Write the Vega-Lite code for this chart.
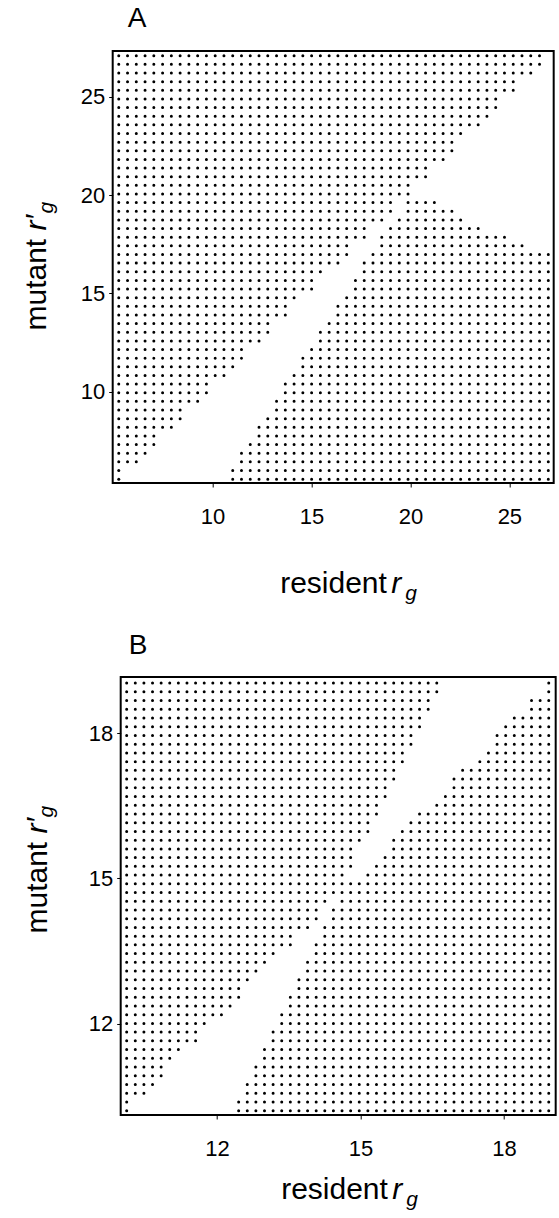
{
"$schema":"https://vega.github.io/schema/vega-lite/v6.json",
"background":"white",
"padding":{"left":20.7,"top":4,"right":0,"bottom":0},
"columns":1,
"spacing":27,
"config":{
 "font":"Liberation Sans",
 "view":{"stroke":"black","strokeWidth":2},
 "axis":{"domain":false,"grid":false,"tickColor":"black","tickSize":4,"tickWidth":1,"labelFont":"Liberation Sans","labelFontSize":22,"labelColor":"black","labelPadding":4,"titleFont":"Liberation Sans","titleFontSize":30,"titleFontWeight":"normal","titleColor":"black"},
 "title":{"font":"Liberation Sans","fontSize":28,"fontWeight":"normal","color":"black","anchor":"start","frame":"group","baseline":"alphabetic"}
},
"concat":[
{"hconcat":[{
 "width":441,"height":432,
 "title":{"text":"A","dx":15,"offset":18},
 "data":{"values":[
{"y":27.1,"x":5.04,"x2":26.747},
{"y":26.66,"x":5.04,"x2":26.747},
{"y":26.22,"x":5.04,"x2":26.304},
{"y":25.78,"x":5.04,"x2":25.418},
{"y":25.34,"x":5.04,"x2":25.418},
{"y":24.9,"x":5.04,"x2":24.532},
{"y":24.46,"x":5.04,"x2":24.532},
{"y":24.02,"x":5.04,"x2":24.089},
{"y":23.58,"x":5.04,"x2":23.646},
{"y":23.14,"x":5.04,"x2":22.76},
{"y":22.7,"x":5.04,"x2":22.317},
{"y":22.26,"x":5.04,"x2":22.317},
{"y":21.82,"x":5.04,"x2":21.874},
{"y":21.38,"x":5.04,"x2":20.988},
{"y":20.94,"x":5.04,"x2":20.988},
{"y":20.5,"x":5.04,"x2":20.102},
{"y":20.06,"x":5.04,"x2":20.102},
{"y":19.62,"x":5.04,"x2":19.216},{"y":19.62,"x":19.659,"x2":21.431},
{"y":19.18,"x":5.04,"x2":19.216},{"y":19.18,"x":19.659,"x2":22.317},
{"y":18.74,"x":5.04,"x2":18.773},{"y":18.74,"x":19.216,"x2":22.76},
{"y":18.3,"x":5.04,"x2":17.887},{"y":18.3,"x":18.773,"x2":23.646},
{"y":17.86,"x":5.04,"x2":17.887},{"y":17.86,"x":18.33,"x2":24.975},
{"y":17.42,"x":5.04,"x2":17.001},{"y":17.42,"x":18.33,"x2":25.861},
{"y":16.98,"x":5.04,"x2":17.001},{"y":16.98,"x":17.887,"x2":27.19},
{"y":16.54,"x":5.04,"x2":16.558},{"y":16.54,"x":17.444,"x2":27.19},
{"y":16.1,"x":5.04,"x2":15.672},{"y":16.1,"x":17.444,"x2":27.19},
{"y":15.66,"x":5.04,"x2":15.229},{"y":15.66,"x":17.001,"x2":27.19},
{"y":15.22,"x":5.04,"x2":15.229},{"y":15.22,"x":17.001,"x2":27.19},
{"y":14.78,"x":5.04,"x2":14.343},{"y":14.78,"x":16.558,"x2":27.19},
{"y":14.34,"x":5.04,"x2":13.9},{"y":14.34,"x":16.115,"x2":27.19},
{"y":13.9,"x":5.04,"x2":13.9},{"y":13.9,"x":16.115,"x2":27.19},
{"y":13.46,"x":5.04,"x2":13.014},{"y":13.46,"x":15.672,"x2":27.19},
{"y":13.02,"x":5.04,"x2":13.014},{"y":13.02,"x":15.229,"x2":27.19},
{"y":12.58,"x":5.04,"x2":12.571},{"y":12.58,"x":15.229,"x2":27.19},
{"y":12.14,"x":5.04,"x2":11.685},{"y":12.14,"x":14.786,"x2":27.19},
{"y":11.7,"x":5.04,"x2":11.685},{"y":11.7,"x":14.343,"x2":27.19},
{"y":11.26,"x":5.04,"x2":11.242},{"y":11.26,"x":14.343,"x2":27.19},
{"y":10.82,"x":5.04,"x2":10.799},{"y":10.82,"x":13.9,"x2":27.19},
{"y":10.38,"x":5.04,"x2":9.913},{"y":10.38,"x":13.457,"x2":27.19},
{"y":9.94,"x":5.04,"x2":9.913},{"y":9.94,"x":13.457,"x2":27.19},
{"y":9.5,"x":5.04,"x2":9.47},{"y":9.5,"x":13.014,"x2":27.19},
{"y":9.06,"x":5.04,"x2":8.584},{"y":9.06,"x":13.014,"x2":27.19},
{"y":8.62,"x":5.04,"x2":8.584},{"y":8.62,"x":12.571,"x2":27.19},
{"y":8.18,"x":5.04,"x2":8.141},{"y":8.18,"x":12.128,"x2":27.19},
{"y":7.74,"x":5.04,"x2":7.255},{"y":7.74,"x":12.128,"x2":27.19},
{"y":7.3,"x":5.04,"x2":7.255},{"y":7.3,"x":11.685,"x2":27.19},
{"y":6.86,"x":5.04,"x2":6.812},{"y":6.86,"x":11.242,"x2":27.19},
{"y":6.42,"x":5.04,"x2":6.369},{"y":6.42,"x":11.242,"x2":27.19},
{"y":5.98,"x":5.04,"x2":5.483},{"y":5.98,"x":10.799,"x2":27.19},
{"y":5.54,"x":5.04,"x2":5.483},{"y":5.54,"x":10.799,"x2":27.19}
 ]},
 "resolve":{"axis":{"x":"independent","y":"independent"}},
 "layer":[
  {"mark":{"type":"rule","color":"black","strokeWidth":3,"strokeCap":"round","strokeDash":[0,8.766],"strokeDashOffset":4.383},
   "encoding":{
    "x":{"field":"x","type":"quantitative","scale":{"domain":[4.955,27.24],"nice":false,"zero":false},"axis":{"orient":"bottom","values":[10,15,20,25],"labelPadding":19,"title":"resident","titleX":167,"titleY":109,"titleAlign":"left","titleBaseline":"alphabetic","titleAngle":0}},
    "x2":{"field":"x2"},
    "y":{"field":"y","type":"quantitative","scale":{"domain":[5.343,27.34],"nice":false,"zero":false},"axis":{"orient":"left","values":[10,15,20,25],"title":"mutant","titleX":-66.7,"titleY":279,"titleAlign":"left","titleBaseline":"alphabetic","titleAngle":270}}}},
  {"mark":{"type":"point","opacity":0},
   "encoding":{
    "x":{"field":"x","type":"quantitative","scale":{"domain":[4.955,27.24],"nice":false,"zero":false},"axis":{"orient":"bottom","labels":false,"ticks":false,"title":"r","titleFontStyle":"italic","titleX":278,"titleY":109,"titleAlign":"left","titleBaseline":"alphabetic","titleAngle":0}},
    "y":{"field":"y","type":"quantitative","scale":{"domain":[5.343,27.34],"nice":false,"zero":false},"axis":{"orient":"left","labels":false,"ticks":false,"title":"r′","titleFontStyle":"italic","titleX":-66.7,"titleY":179,"titleAlign":"left","titleBaseline":"alphabetic","titleAngle":270}}}},
  {"mark":{"type":"point","opacity":0},
   "encoding":{
    "x":{"field":"x","type":"quantitative","scale":{"domain":[4.955,27.24],"nice":false,"zero":false},"axis":{"orient":"bottom","labels":false,"ticks":false,"title":"g","titleFontSize":21,"titleFontStyle":"italic","titleX":292,"titleY":116,"titleAlign":"left","titleBaseline":"alphabetic","titleAngle":0}},
    "y":{"field":"y","type":"quantitative","scale":{"domain":[5.343,27.34],"nice":false,"zero":false},"axis":{"orient":"left","labels":false,"ticks":false,"title":"g","titleFontSize":21,"titleFontStyle":"italic","titleX":-60,"titleY":162,"titleAlign":"left","titleBaseline":"alphabetic","titleAngle":270}}}}
 ]
}]},
{"hconcat":[
 {"width":7.3,"height":438,"view":{"stroke":null},"data":{"values":[{"s":0}]},"mark":{"type":"point","opacity":0},"encoding":{}},
 {
 "width":435,"height":438,
 "title":{"text":"B","dx":8,"offset":17},
 "data":{"values":[
{"y":19.03,"x":10.025,"x2":16.685},{"y":19.03,"x":18.845,"x2":19.025},
{"y":18.85,"x":10.025,"x2":16.685},{"y":18.85,"x":18.845,"x2":19.025},
{"y":18.67,"x":10.025,"x2":16.505},{"y":18.67,"x":18.485,"x2":19.025},
{"y":18.49,"x":10.025,"x2":16.505},{"y":18.49,"x":18.485,"x2":19.025},
{"y":18.31,"x":10.025,"x2":16.325},{"y":18.31,"x":18.125,"x2":19.025},
{"y":18.13,"x":10.025,"x2":16.325},{"y":18.13,"x":17.945,"x2":19.025},
{"y":17.95,"x":10.025,"x2":16.145},{"y":17.95,"x":17.765,"x2":19.025},
{"y":17.77,"x":10.025,"x2":16.145},{"y":17.77,"x":17.765,"x2":19.025},
{"y":17.59,"x":10.025,"x2":15.965},{"y":17.59,"x":17.585,"x2":19.025},
{"y":17.41,"x":10.025,"x2":15.965},{"y":17.41,"x":17.405,"x2":19.025},
{"y":17.23,"x":10.025,"x2":15.785},{"y":17.23,"x":17.045,"x2":19.025},
{"y":17.05,"x":10.025,"x2":15.785},{"y":17.05,"x":16.865,"x2":19.025},
{"y":16.87,"x":10.025,"x2":15.605},{"y":16.87,"x":16.865,"x2":19.025},
{"y":16.69,"x":10.025,"x2":15.605},{"y":16.69,"x":16.685,"x2":19.025},
{"y":16.51,"x":10.025,"x2":15.425},{"y":16.51,"x":16.505,"x2":19.025},
{"y":16.33,"x":10.025,"x2":15.425},{"y":16.33,"x":16.145,"x2":19.025},
{"y":16.15,"x":10.025,"x2":15.245},{"y":16.15,"x":15.965,"x2":19.025},
{"y":15.97,"x":10.025,"x2":15.245},{"y":15.97,"x":15.785,"x2":19.025},
{"y":15.79,"x":10.025,"x2":15.065},{"y":15.79,"x":15.605,"x2":19.025},
{"y":15.61,"x":10.025,"x2":14.885},{"y":15.61,"x":15.605,"x2":19.025},
{"y":15.43,"x":10.025,"x2":14.885},{"y":15.43,"x":15.425,"x2":19.025},
{"y":15.25,"x":10.025,"x2":14.885},{"y":15.25,"x":15.245,"x2":19.025},
{"y":15.07,"x":10.025,"x2":14.705},{"y":15.07,"x":15.065,"x2":19.025},
{"y":14.89,"x":10.025,"x2":19.025},
{"y":14.71,"x":10.025,"x2":19.025},
{"y":14.53,"x":10.025,"x2":14.345},{"y":14.53,"x":14.525,"x2":19.025},
{"y":14.35,"x":10.025,"x2":14.165},{"y":14.35,"x":14.345,"x2":19.025},
{"y":14.17,"x":10.025,"x2":14.165},{"y":14.17,"x":14.345,"x2":19.025},
{"y":13.99,"x":10.025,"x2":13.985},{"y":13.99,"x":14.165,"x2":19.025},
{"y":13.81,"x":10.025,"x2":13.625},{"y":13.81,"x":14.165,"x2":19.025},
{"y":13.63,"x":10.025,"x2":13.625},{"y":13.63,"x":13.985,"x2":19.025},
{"y":13.45,"x":10.025,"x2":13.265},{"y":13.45,"x":13.985,"x2":19.025},
{"y":13.27,"x":10.025,"x2":13.085},{"y":13.27,"x":13.805,"x2":19.025},
{"y":13.09,"x":10.025,"x2":12.905},{"y":13.09,"x":13.805,"x2":19.025},
{"y":12.91,"x":10.025,"x2":12.725},{"y":12.91,"x":13.625,"x2":19.025},
{"y":12.73,"x":10.025,"x2":12.545},{"y":12.73,"x":13.625,"x2":19.025},
{"y":12.55,"x":10.025,"x2":12.545},{"y":12.55,"x":13.445,"x2":19.025},
{"y":12.37,"x":10.025,"x2":12.365},{"y":12.37,"x":13.445,"x2":19.025},
{"y":12.19,"x":10.025,"x2":12.185},{"y":12.19,"x":13.265,"x2":19.025},
{"y":12.01,"x":10.025,"x2":11.825},{"y":12.01,"x":13.265,"x2":19.025},
{"y":11.83,"x":10.025,"x2":11.645},{"y":11.83,"x":13.085,"x2":19.025},
{"y":11.65,"x":10.025,"x2":11.645},{"y":11.65,"x":13.085,"x2":19.025},
{"y":11.47,"x":10.025,"x2":11.285},{"y":11.47,"x":12.905,"x2":19.025},
{"y":11.29,"x":10.025,"x2":11.105},{"y":11.29,"x":12.905,"x2":19.025},
{"y":11.11,"x":10.025,"x2":10.925},{"y":11.11,"x":12.725,"x2":19.025},
{"y":10.93,"x":10.025,"x2":10.925},{"y":10.93,"x":12.725,"x2":19.025},
{"y":10.75,"x":10.025,"x2":10.745},{"y":10.75,"x":12.545,"x2":19.025},
{"y":10.57,"x":10.025,"x2":10.565},{"y":10.57,"x":12.545,"x2":19.025},
{"y":10.39,"x":10.025,"x2":10.205},{"y":10.39,"x":12.365,"x2":19.025},
{"y":10.21,"x":10.025,"x2":10.205},{"y":10.21,"x":12.365,"x2":19.025}
 ]},
 "resolve":{"axis":{"x":"independent","y":"independent"}},
 "layer":[
  {"mark":{"type":"rule","color":"black","strokeWidth":3,"strokeCap":"round","strokeDash":[0,8.614],"strokeDashOffset":4.307},
   "encoding":{
    "x":{"field":"x","type":"quantitative","scale":{"domain":[9.99,19.08],"nice":false,"zero":false},"axis":{"orient":"bottom","values":[12,15,18],"labelPadding":20,"title":"resident","titleX":160,"titleY":84,"titleAlign":"left","titleBaseline":"alphabetic","titleAngle":0}},
    "x2":{"field":"x2"},
    "y":{"field":"y","type":"quantitative","scale":{"domain":[10.12,19.156],"nice":false,"zero":false},"axis":{"orient":"left","values":[12,15,18],"title":"mutant","titleX":-74,"titleY":256,"titleAlign":"left","titleBaseline":"alphabetic","titleAngle":270}}}},
  {"mark":{"type":"point","opacity":0},
   "encoding":{
    "x":{"field":"x","type":"quantitative","scale":{"domain":[9.99,19.08],"nice":false,"zero":false},"axis":{"orient":"bottom","labels":false,"ticks":false,"title":"r","titleFontStyle":"italic","titleX":271,"titleY":84,"titleAlign":"left","titleBaseline":"alphabetic","titleAngle":0}},
    "y":{"field":"y","type":"quantitative","scale":{"domain":[10.12,19.156],"nice":false,"zero":false},"axis":{"orient":"left","labels":false,"ticks":false,"title":"r′","titleFontStyle":"italic","titleX":-74,"titleY":156,"titleAlign":"left","titleBaseline":"alphabetic","titleAngle":270}}}},
  {"mark":{"type":"point","opacity":0},
   "encoding":{
    "x":{"field":"x","type":"quantitative","scale":{"domain":[9.99,19.08],"nice":false,"zero":false},"axis":{"orient":"bottom","labels":false,"ticks":false,"title":"g","titleFontSize":21,"titleFontStyle":"italic","titleX":285,"titleY":91,"titleAlign":"left","titleBaseline":"alphabetic","titleAngle":0}},
    "y":{"field":"y","type":"quantitative","scale":{"domain":[10.12,19.156],"nice":false,"zero":false},"axis":{"orient":"left","labels":false,"ticks":false,"title":"g","titleFontSize":21,"titleFontStyle":"italic","titleX":-68,"titleY":140,"titleAlign":"left","titleBaseline":"alphabetic","titleAngle":270}}}}
 ]
}],"spacing":0,"bounds":"flush"}
]
}
